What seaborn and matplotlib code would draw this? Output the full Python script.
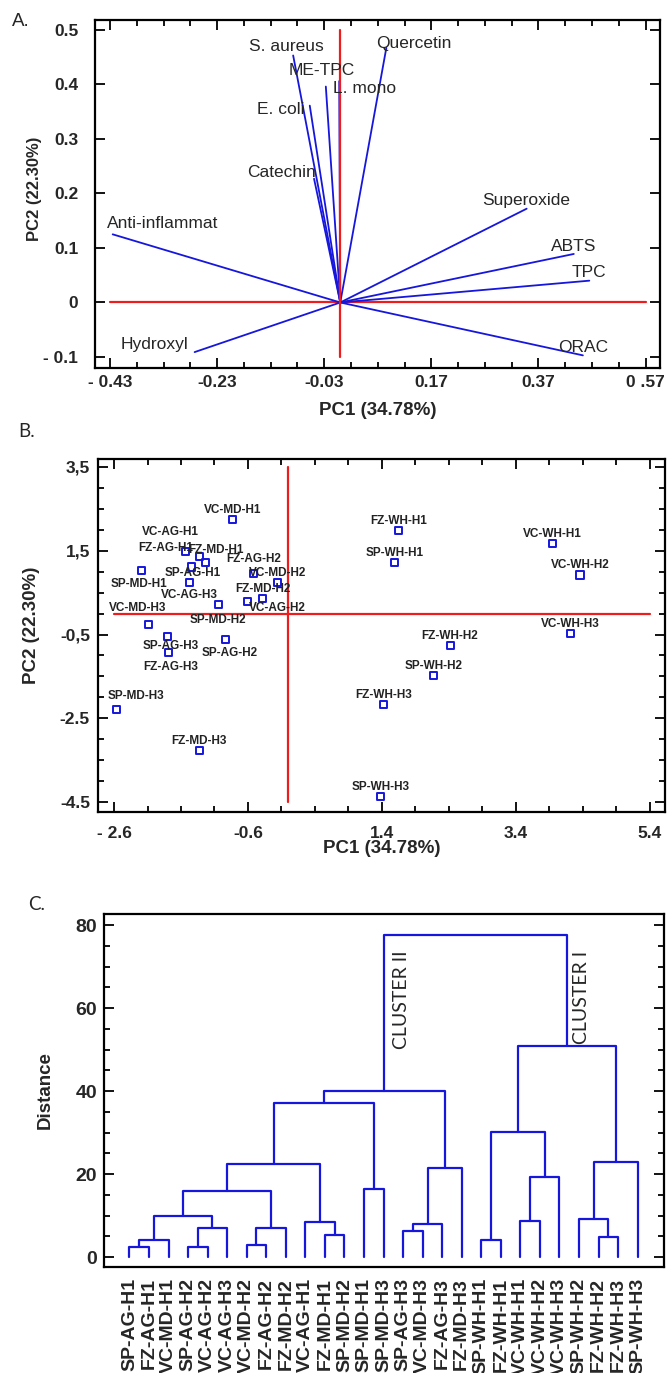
import matplotlib

matplotlib.use("Agg")
import matplotlib.pyplot as plt
import numpy as np
import pandas as pd
import seaborn as sns

BLUE = "#1616dc"
RED = "#ee1c1c"

# --- A. loadings biplot -------------------------------------------------
LOAD_VARS = ["S. aureus", "ME-TPC", "L. mono", "E. coli", "Catechin", "Quercetin",
             "Anti-inflammat", "Hydroxyl", "Superoxide", "ABTS", "TPC", "ORAC"]
LOAD_PC1 = [-0.088, -0.002, -0.027, -0.057, -0.049, 0.086, -0.425, -0.272, 0.348, 0.436, 0.465, 0.453]
LOAD_PC2 = [0.453, 0.406, 0.396, 0.361, 0.227, 0.467, 0.125, -0.091, 0.172, 0.089, 0.040, -0.097]
A_XTICKS = [-0.43, -0.23, -0.03, 0.17, 0.37, 0.57]
A_XTICKLABELS = ["- 0.43", "-0.23", "-0.03", "0.17", "0.37", "0 .57"]
A_YTICKS = [-0.1, 0, 0.1, 0.2, 0.3, 0.4, 0.5]
A_YTICKLABELS = ["- 0.1", "0", "0.1", "0.2", "0.3", "0.4", "0.5"]

# --- B. scores ----------------------------------------------------------
SAMPLES = ["VC-MD-H1", "FZ-AG-H1", "VC-AG-H1", "FZ-MD-H1", "VC-AG-H3", "SP-MD-H1", "SP-AG-H1",
           "FZ-AG-H2", "VC-MD-H2", "VC-AG-H2", "FZ-MD-H2", "SP-MD-H2", "VC-MD-H3", "SP-AG-H3",
           "SP-AG-H2", "FZ-AG-H3", "SP-MD-H3", "FZ-MD-H3", "FZ-WH-H1", "SP-WH-H1", "VC-WH-H1",
           "VC-WH-H2", "VC-WH-H3", "FZ-WH-H2", "SP-WH-H2", "FZ-WH-H3", "SP-WH-H3"]
SCORE_PC1 = [-0.83, -1.53, -1.33, -1.24, -1.44, -2.19, -1.47, -0.51, -0.16, -0.61, -0.38, -1.04,
             -2.08, -1.80, -0.93, -1.78, -2.57, -1.33, 1.65, 1.59, 3.95, 4.36, 4.22, 2.42, 2.17,
             1.43, 1.38]
SCORE_PC2 = [2.25, 1.49, 1.37, 1.21, 1.11, 1.03, 0.75, 0.96, 0.75, 0.29, 0.35, 0.21, -0.26, -0.54,
             -0.61, -0.94, -2.29, -3.27, 1.99, 1.21, 1.68, 0.92, -0.48, -0.77, -1.48, -2.16, -4.37]
B_XTICKS = [-2.6, -0.6, 1.4, 3.4, 5.4]
B_XTICKLABELS = ["- 2.6", "-0.6", "1.4", "3.4", "5.4"]
B_YTICKS = [-4.5, -2.5, -0.5, 1.5, 3.5]
B_YTICKLABELS = ["-4.5", "-2.5", "-0,5", "1,5", "3,5"]

# --- C. dendrogram (leaf order + merges, scipy style ids) ---------------
LEAVES = ["SP-AG-H1", "FZ-AG-H1", "VC-MD-H1", "SP-AG-H2", "VC-AG-H2", "VC-AG-H3", "VC-MD-H2",
          "FZ-AG-H2", "FZ-MD-H2", "VC-AG-H1", "FZ-MD-H1", "SP-MD-H2", "SP-MD-H1", "SP-MD-H3",
          "SP-AG-H3", "VC-MD-H3", "FZ-AG-H3", "FZ-MD-H3", "SP-WH-H1", "FZ-WH-H1", "VC-WH-H1",
          "VC-WH-H2", "VC-WH-H3", "SP-WH-H2", "FZ-WH-H2", "FZ-WH-H3", "SP-WH-H3"]
MERGE_A = [0, 3, 6, 18, 27, 24, 10, 14, 28, 29, 34, 9, 20, 23, 31, 41, 12, 39, 37, 42, 40, 30, 46, 49, 48, 50]
MERGE_B = [1, 4, 7, 19, 2, 25, 11, 15, 5, 8, 16, 33, 21, 32, 35, 36, 13, 22, 17, 38, 26, 44, 43, 45, 47, 51]
MERGE_H = [2.5, 2.5, 3.0, 4.2, 4.1, 4.9, 5.2, 6.3, 7.0, 7.0, 8.0, 8.4, 8.8, 9.2, 9.8, 15.9, 16.4,
           19.3, 21.4, 22.4, 23.0, 30.2, 37.1, 40.0, 50.9, 77.5]
C_YTICKS = [0, 20, 40, 60, 80]

# label placement (pixel offsets from the point)
LOAD_LABEL_SHIFT = {"S. aureus": (-7, 10), "ME-TPC": (-17, 12), "L. mono": (39, 0), "E. coli": (-29, -2),
                    "Catechin": (-33, 8), "Quercetin": (27, 6), "Anti-inflammat": (50, 12),
                    "Hydroxyl": (-40, 9), "Superoxide": (0, 10), "ABTS": (0, 9), "TPC": (0, 10),
                    "ORAC": (0, 9)}
SCORE_LABEL_SHIFT = {"FZ-AG-H1": (-20, 5), "VC-AG-H1": (-29, 26), "FZ-MD-H1": (11, 14),
                     "VC-AG-H3": (-2, -26), "SP-MD-H1": (-2, -12), "SP-AG-H1": (3, 11),
                     "FZ-AG-H2": (0, 16), "VC-AG-H2": (30, -5), "SP-MD-H2": (-1, -14),
                     "VC-MD-H3": (-11, 18), "SP-AG-H3": (3, -8), "SP-AG-H2": (4, -12),
                     "FZ-AG-H3": (2, -13), "SP-MD-H3": (20, 15)}

BOLD = dict(fontweight="bold")


def box_ticks(ax, ypad, xpad):
    for s in ax.spines.values():
        s.set_visible(True)
        s.set_linewidth(1.6)
        s.set_color("black")
    ax.tick_params(which="both", direction="in", top=True, right=True, width=1.3, color="black")
    ax.tick_params(which="major", length=7)
    ax.tick_params(which="minor", length=4.5)
    ax.tick_params(axis="y", which="both", pad=ypad)
    ax.tick_params(axis="x", which="both", pad=xpad)


def panel_a(ax):
    rows = []
    for name, x, y in zip(LOAD_VARS, LOAD_PC1, LOAD_PC2):
        rows += [{"var": name, "x": 0.0, "y": 0.0}, {"var": name, "x": x, "y": y}]
    vec = pd.DataFrame(rows)
    ax.plot([A_XTICKS[0], A_XTICKS[-1]], [0, 0], color=RED, lw=1.6, zorder=1)
    ax.plot([0, 0], [A_YTICKS[0], A_YTICKS[-1]], color=RED, lw=1.6, zorder=3)
    sns.lineplot(data=vec, x="x", y="y", units="var", estimator=None, sort=False,
                 color=BLUE, lw=1.3, ax=ax, zorder=2)
    for name, x, y in zip(LOAD_VARS, LOAD_PC1, LOAD_PC2):
        ax.annotate(name, (x, y), xytext=LOAD_LABEL_SHIFT[name], textcoords="offset pixels",
                    ha="center", va="center_baseline", fontsize=12.5)
    ax.set_xlim(-0.458, 0.597)
    ax.set_ylim(-0.1196, 0.518)
    ax.set_xticks(A_XTICKS)
    ax.set_xticklabels(A_XTICKLABELS, fontsize=12.5, **BOLD)
    ax.set_xticks(np.round(np.arange(-0.43, 0.58, 0.05), 3), minor=True)
    ax.set_yticks(A_YTICKS)
    ax.set_yticklabels(A_YTICKLABELS, fontsize=12.5, **BOLD)
    box_ticks(ax, ypad=12, xpad=5)
    ax.set_xlabel("PC1 (34.78%)", fontsize=13.5, **BOLD)
    ax.set_ylabel("PC2 (22.30%)", fontsize=12, **BOLD)
    ax.xaxis.set_label_coords(0.5, -0.10)
    ax.yaxis.set_label_coords(-0.094, 0.514)


def panel_b(ax):
    scores = pd.DataFrame({"sample": SAMPLES, "pc1": SCORE_PC1, "pc2": SCORE_PC2})
    ax.plot([B_XTICKS[0], B_XTICKS[-1]], [0, 0], color=RED, lw=1.6, zorder=1)
    ax.plot([0, 0], [B_YTICKS[0], B_YTICKS[-1]], color=RED, lw=1.6, zorder=1)
    sns.scatterplot(data=scores, x="pc1", y="pc2", marker="s", s=26, facecolor="none",
                    edgecolor=BLUE, linewidth=1.4, ax=ax, zorder=3)
    for name, x, y in zip(SAMPLES, SCORE_PC1, SCORE_PC2):
        ax.annotate(name, (x, y), xytext=SCORE_LABEL_SHIFT.get(name, (0, 11)),
                    textcoords="offset pixels", ha="center", va="center_baseline",
                    fontsize=8.5, color="#222222", **BOLD)
    ax.set_xlim(-2.835, 5.63)
    ax.set_ylim(-4.74, 3.68)
    ax.set_xticks(B_XTICKS)
    ax.set_xticklabels(B_XTICKLABELS, fontsize=12.5, **BOLD)
    ax.set_xticks(np.round(np.arange(-2.6, 5.45, 0.5), 2), minor=True)
    ax.set_yticks(B_YTICKS)
    ax.set_yticklabels(B_YTICKLABELS, fontsize=12.5, **BOLD)
    ax.set_yticks(np.round(np.arange(-4.5, 3.55, 0.5), 2), minor=True)
    box_ticks(ax, ypad=6, xpad=10)
    ax.set_xlabel("PC1 (34.78%)", fontsize=13.5, **BOLD)
    ax.set_ylabel("PC2 (22.30%)", fontsize=13.5, **BOLD)
    ax.xaxis.set_label_coords(0.5, -0.078)
    ax.yaxis.set_label_coords(-0.103, 0.53)


def panel_c(ax):
    n = len(LEAVES)
    pos = {i: float(i) for i in range(n)}
    hgt = {i: 0.0 for i in range(n)}
    rows = []
    for k, (a, b, h) in enumerate(zip(MERGE_A, MERGE_B, MERGE_H)):
        node = n + k
        for x, y in [(pos[a], hgt[a]), (pos[a], h), (pos[b], h), (pos[b], hgt[b])]:
            rows.append({"link": node, "x": x, "y": y})
        pos[node] = (pos[a] + pos[b]) / 2
        hgt[node] = h
    links = pd.DataFrame(rows)
    sns.lineplot(data=links, x="x", y="y", units="link", estimator=None, sort=False,
                 color=BLUE, lw=1.6, ax=ax)
    top = n + len(MERGE_H) - 1
    left, right = MERGE_A[-1], MERGE_B[-1]
    for node, label, dx in [(left, "CLUSTER II", 9), (right, "CLUSTER I", 6)]:
        ax.annotate(label, (pos[node], hgt[top]), xytext=(dx, -15), textcoords="offset pixels",
                    rotation=90, ha="left", va="top", fontsize=14, family=["Lato", "DejaVu Sans"])
    ax.set_xlim(-1.3, 27.35)
    ax.set_ylim(-2.4, 82.65)
    ax.set_xticks(range(n))
    ax.set_xticklabels(LEAVES, rotation=90, fontsize=14, **BOLD)
    ax.set_yticks(C_YTICKS)
    ax.set_yticklabels([str(t) for t in C_YTICKS], fontsize=14, **BOLD)
    ax.set_yticks(range(0, 81, 5), minor=True)
    box_ticks(ax, ypad=5, xpad=8)
    ax.tick_params(axis="x", which="both", length=0, top=False)
    ax.set_xlabel("")
    ax.set_ylabel("Distance", fontsize=13.5, **BOLD)
    ax.yaxis.set_label_coords(-0.0905, 0.5)


def main() -> None:
    sns.set_theme(style="ticks")
    plt.rcParams["font.family"] = ["Liberation Sans", "DejaVu Sans"]

    fig = plt.figure(figsize=(6.71, 13.73), dpi=100)
    ax_a = fig.add_axes([0.1416, 0.7322, 0.842, 0.2532])
    ax_b = fig.add_axes([0.1465, 0.4084, 0.8446, 0.2571])
    ax_c = fig.add_axes([0.155, 0.0772, 0.8346, 0.2571])

    panel_a(ax_a)
    panel_b(ax_b)
    panel_c(ax_c)

    fig.text(0.018, 0.984, "A.", fontsize=13.5, va="center", ha="left")
    fig.text(0.027, 0.686, "B.", fontsize=13.5, va="center", ha="left", family=["Lato", "DejaVu Sans"])
    fig.text(0.042, 0.341, "C.", fontsize=13.5, va="center", ha="left", family=["Lato", "DejaVu Sans"])

    fig.savefig("out.png", dpi=100)
    plt.close(fig)


if __name__ == "__main__":
    main()
